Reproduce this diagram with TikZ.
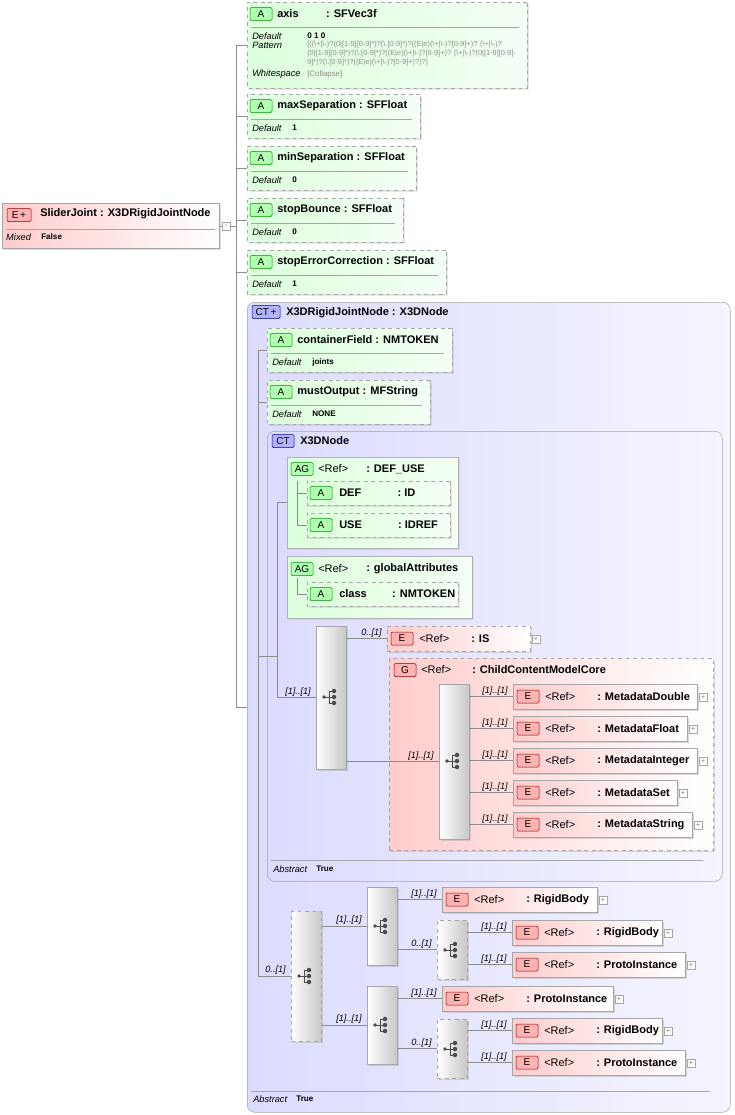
\documentclass[tikz,border=0pt]{standalone}
\usepackage{fontspec}
\setmainfont{Liberation Sans}
\usetikzlibrary{shapes.misc,shadows}
\def\u{0.8pt}
\def\bsl{\textbackslash}

\tikzset{
  every node/.style={inner sep=0pt},
  txt/.style={anchor=west, font=\fontsize{8.8}{10}\selectfont},
  bname/.style={txt, font=\fontsize{8.8}{10}\selectfont\bfseries},
  lbl/.style={txt, font=\fontsize{7.4}{8}\selectfont\itshape},
  val/.style={txt, font=\fontsize{6.5}{7.5}\selectfont\bfseries},
  card/.style={pos=1, anchor=south east, xshift=-4pt, yshift=1pt, font=\fontsize{7.3}{8}\selectfont\itshape},
  conn/.style={draw=black!45, line width=0.5pt},
  sdw/.style={drop shadow={shadow xshift=1.2pt, shadow yshift=-1.2pt, opacity=0.35, fill=black!40}},
  elem/.style={rectangle, anchor=north west, draw=black!35, left color=red!20, right color=white, sdw},
  attr/.style={chamfered rectangle, chamfered rectangle corners={north west,south west}, chamfered rectangle xsep=4pt,
               anchor=north west, draw=black!35, dashed, left color=green!14, right color=green!4, sdw},
  ag/.style={attr, solid, draw=black!30},
  ct/.style={rectangle, rounded corners=6pt, anchor=north west, draw=black!35, left color=blue!14, right color=blue!4},
  comp/.style={rectangle, anchor=north west, draw=black!35, left color=white, right color=black!22, sdw, minimum width=30*\u},
  icon/.style={draw=#1!55!black, fill=#1!30, rounded corners=1pt, minimum width=22*\u, minimum height=13*\u, font=\fontsize{8}{9}\selectfont},
  plusbox/.style={draw=black!35, fill=white, minimum size=8*\u, font=\fontsize{6}{6}\selectfont, text=black!50},
}

% element reference: [opts] name x y width type
\newcommand\eref[6][]{%
  \node[elem,#1,minimum width=#5*\u,minimum height=25*\u] (#2) at (#3,#4) {};
  \node[icon=red] at (#3+15,#4+12.5) {E};
  \node[txt] at (#3+32,#4+12.5) {<Ref>};
  \node[bname] at (#3+84,#4+12.5) {: #6};
  \node[plusbox] at (#3+#5+6,#4+13) {+};}

% attribute: name x y width height title default-x default
\newcommand\attrbox[8]{%
  \node[attr,minimum width=#4*\u,minimum height=#5*\u] (#1) at (#2,#3) {};
  \node[icon=green] at (#2+14,#3+12) {A};
  \node[bname] at (#2+30,#3+12) {#6};
  \draw[black!35] (#2+4,#3+25) -- (#2+#4-8,#3+25);
  \node[lbl] at (#2+5,#3+34) {Default};
  \node[val] at (#2+#7,#3+34) {#8};}

% small attribute inside a group: name x y width title
\newcommand\attrref[5]{%
  \node[attr,minimum width=#4*\u,minimum height=24*\u] (#1) at (#2,#3) {};
  \node[icon=green] at (#2+14,#3+12) {A};
  \node[bname] at (#2+32,#3+12) {#5};}

% sequence / choice glyph
\newcommand\compicon[2]{%
  \draw[black!70, line width=0.7pt] (#1-7,#2) -- (#1-2,#2) (#1-2,#2-6) -- (#1-2,#2+6)
    (#1-2,#2-6) -- (#1+3,#2-6) (#1-2,#2) -- (#1+3,#2) (#1-2,#2+6) -- (#1+3,#2+6);
  \fill[black!70] (#1-7,#2) circle (1.5pt) (#1+3,#2-6) circle (1.8pt)
    (#1+3,#2) circle (1.8pt) (#1+3,#2+6) circle (1.8pt);}

\begin{document}
\begin{tikzpicture}[x=\u, y=-\u]
  \useasboundingbox (0,0) rectangle (734,1115);

  % root element
  \node[elem, minimum width=217*\u, minimum height=45*\u] (slider) at (2,203) {};
  \node[icon=red, minimum width=24*\u] at (19,215) {E\,+};
  \node[bname] at (40,214) {SliderJoint : X3DRigidJointNode};
  \draw[black!35] (6,229) -- (215,229);
  \node[lbl] at (6,237) {Mixed};
  \node[val] at (41,237) {False};
  \node[plusbox] (fold) at (226,226) {-};
  \coordinate (sp) at (236,226);

  % attributes
  \attrbox{axis}{247}{2}{280}{86}{axis\hspace{2.5em}: SFVec3f}{60}{0 1 0}
  \node[lbl] at (252,45) {Pattern};
  \node[lbl] at (252,74) {Whitespace};
  \node[txt, anchor=north west, text=black!45, font=\fontsize{5.9}{7}\selectfont, align=left] at (307,41)
    {[((\bsl+|\bsl-)?(0|[1-9][0-9]*)?(\bsl.[0-9]*)?((E|e)(\bsl+|\bsl-)?[0-9]+)? (\bsl+|\bsl-)?\\
     (0|[1-9][0-9]*)?(\bsl.[0-9]*)?((E|e)(\bsl+|\bsl-)?[0-9]+)? (\bsl+|\bsl-)?(0|[1-9][0-9]-\\
     9]*)?(\bsl.[0-9]*)?((E|e)(\bsl+|\bsl-)?[0-9]+)?)?]};
  \node[txt, text=black!45, font=\fontsize{6.3}{7}\selectfont] at (307,74) {[Collapse]};
  \attrbox{maxsep}{247}{94}{173}{44}{maxSeparation : SFFloat}{45}{1}
  \attrbox{minsep}{247}{146}{169}{44}{minSeparation : SFFloat}{45}{0}
  \attrbox{bounce}{247}{198}{156}{44}{stopBounce : SFFloat}{45}{0}
  \attrbox{errcorr}{247}{250}{199}{44}{stopErrorCorrection : SFFloat}{45}{1}

  % base type
  \node[ct, minimum width=483*\u, minimum height=810*\u] (rjn) at (247,302) {};
  \node[icon=blue, minimum width=28*\u] at (266,312) {CT\,+};
  \node[bname] at (286,313) {X3DRigidJointNode : X3DNode};
  \draw[black!35] (251,1091) -- (710,1091);
  \node[lbl] at (253,1099) {Abstract};
  \node[val] at (296,1099) {True};
  \coordinate (sp2) at (258,350);

  \attrbox{cfield}{267}{328}{185}{44}{containerField : NMTOKEN}{45}{joints}
  \attrbox{mout}{267}{380}{163}{44}{mustOutput : MFString}{45}{NONE}

  \node[ct, minimum width=455*\u, minimum height=450*\u] (x3d) at (267,431) {};
  \node[icon=blue] at (283,441) {CT};
  \node[bname] at (300,441) {X3DNode};
  \draw[black!35] (271,860) -- (703,860);
  \node[lbl] at (273,869) {Abstract};
  \node[val] at (316,869) {True};
  \coordinate (sp3) at (277,500);
  \coordinate (sp4) at (297,0);

  % attribute groups
  \node[ag, minimum width=171*\u, minimum height=91*\u] (defuse) at (287,457) {};
  \node[icon=green] at (302,469) {AG};
  \node[txt] at (318,469) {<Ref>};
  \node[bname] at (366,469) {: DEF\_USE};
  \attrref{def}{307}{481}{143}{DEF\hspace{3.3em}: ID}
  \attrref{use}{307}{513}{143}{USE\hspace{3.3em}: IDREF}
  \node[ag, minimum width=185*\u, minimum height=62*\u] (glob) at (287,556) {};
  \node[icon=green] at (302,569) {AG};
  \node[txt] at (318,569) {<Ref>};
  \node[bname] at (366,569) {: globalAttributes};
  \attrref{cls}{307}{582}{151}{class\hspace{2.3em}: NMTOKEN}

  % content model
  \node[comp, minimum height=143*\u] (seqa) at (316,626) {};
  \compicon{331}{697}
  \eref[dashed]{is}{387}{626}{143}{IS}
  \node[elem, dashed, minimum width=324*\u, minimum height=192*\u] (core) at (389,658) {};
  \node[icon=red] at (405,670) {G};
  \node[txt] at (421,670) {<Ref>};
  \node[bname] at (472,670) {: ChildContentModelCore};
  \node[card, anchor=south east] at (386,668) {0..[1]};
  \node[comp, minimum height=155*\u] (cha) at (439,684) {};
  \compicon{454}{761}
  \eref{mdouble}{513}{684}{184}{MetadataDouble}
  \eref{mfloat}{513}{716}{174}{MetadataFloat}
  \eref{mint}{513}{748}{184}{MetadataInteger}
  \eref{mset}{513}{780}{164}{MetadataSet}
  \eref{mstring}{513}{812}{179}{MetadataString}

  % joint bodies
  \node[comp, dashed, minimum height=130*\u] (chb) at (291,911) {};
  \compicon{306}{976}
  \node[comp, minimum height=78*\u] (seqb) at (367,887) {};
  \compicon{382}{926}
  \node[comp, minimum height=78*\u] (seqc) at (367,986) {};
  \compicon{382}{1025}
  \eref{body1}{442}{887}{155}{RigidBody}
  \node[comp, dashed, minimum height=59*\u] (chc) at (437,920) {};
  \compicon{452}{950}
  \eref{body2}{512}{920}{150}{RigidBody}
  \eref{proto1}{512}{952}{173}{ProtoInstance}
  \eref{proto2}{442}{986}{171}{ProtoInstance}
  \node[comp, dashed, minimum height=59*\u] (chd) at (437,1019) {};
  \compicon{452}{1049}
  \eref{body3}{512}{1018}{150}{RigidBody}
  \eref{proto3}{512}{1050}{173}{ProtoInstance}

  % connectors
  \begin{scope}[every path/.style=conn]
    \draw (slider.east |- fold) -- (fold) -- (sp);
    \draw (sp |- axis.west) -- (sp |- rjn.west) -- (rjn.west);
    \foreach \a in {axis,maxsep,minsep,bounce,errcorr}
      \draw (sp |- \a.west) -- (\a.west);
    \draw (sp2) -- (sp2 |- chb.west) -- node[card] {0..[1]} (chb.west);
    \draw (sp2 |- cfield.west) -- (cfield.west);
    \draw (sp2 |- mout.west) -- (mout.west);
    \draw (sp2 |- 0,656) -- (sp3 |- 0,656);
    \draw (sp3 |- defuse.west) -- (defuse.west);
    \draw (sp3 |- defuse.west) -- (sp3 |- seqa.west) -- node[card] {[1]..[1]} (seqa.west);
    \draw (sp4 |- 0,481) -- (sp4 |- use.west) -- (use.west);
    \draw (sp4 |- def.west) -- (def.west);
    \draw (sp4 |- 0,578) -- (sp4 |- cls.west) -- (cls.west);
    \draw (seqa.east |- is.west) -- node[card] {0..[1]} (is.west);
    \draw (seqa.east |- cha.west) -- node[card] {[1]..[1]} (cha.west);
    \foreach \m in {mdouble,mfloat,mint,mset,mstring}
      \draw (cha.east |- \m.west) -- node[card] {[1]..[1]} (\m.west);
    \draw (chb.east |- seqb.west) -- node[card] {[1]..[1]} (seqb.west);
    \draw (chb.east |- seqc.west) -- node[card] {[1]..[1]} (seqc.west);
    \draw (seqb.east |- body1.west) -- node[card] {[1]..[1]} (body1.west);
    \draw (seqb.east |- chc.west) -- node[card] {0..[1]} (chc.west);
    \draw (chc.east |- body2.west) -- node[card] {[1]..[1]} (body2.west);
    \draw (chc.east |- proto1.west) -- node[card] {[1]..[1]} (proto1.west);
    \draw (seqc.east |- proto2.west) -- node[card] {[1]..[1]} (proto2.west);
    \draw (seqc.east |- chd.west) -- node[card] {0..[1]} (chd.west);
    \draw (chd.east |- body3.west) -- node[card] {[1]..[1]} (body3.west);
    \draw (chd.east |- proto3.west) -- node[card] {[1]..[1]} (proto3.west);
  \end{scope}
\end{tikzpicture}
\end{document}
